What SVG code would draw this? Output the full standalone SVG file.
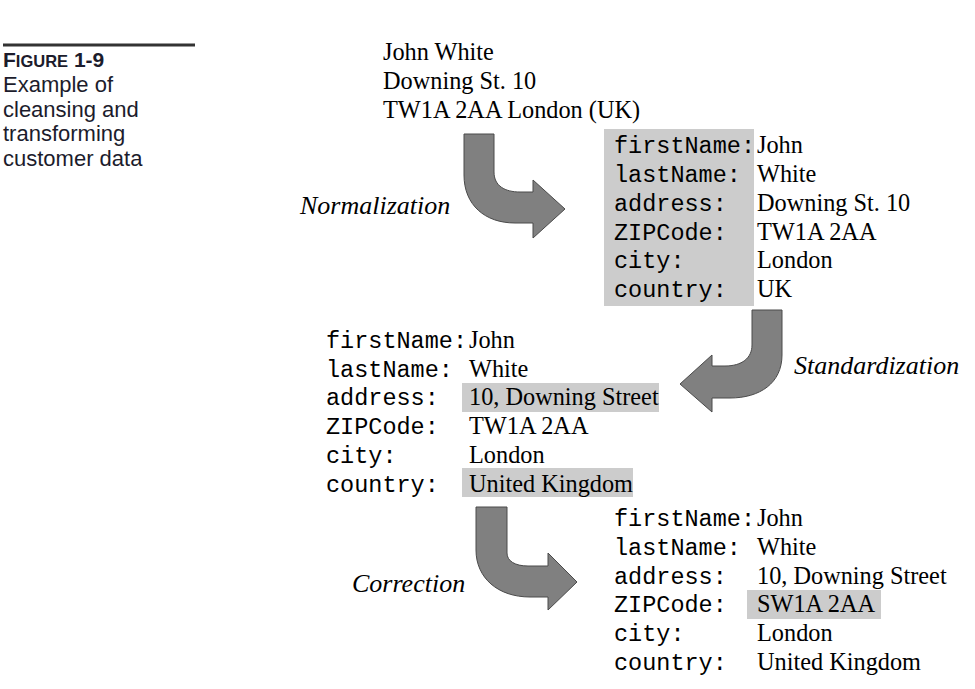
<svg xmlns="http://www.w3.org/2000/svg" width="975" height="689" viewBox="0 0 975 689">
<style>
  .cap { font-family: "Liberation Sans", Arial, sans-serif; font-size: 22px; fill: #1c1c2c; }
  .capb { font-family: "Liberation Sans", Arial, sans-serif; font-weight: bold; fill: #1c1c2c; }
  .serif { font-family: "Liberation Serif", "Times New Roman", serif; font-size: 24.3px; fill: #000; }
  .mono { font-family: "Liberation Mono", "Courier New", monospace; font-size: 23.5px; fill: #000; }
  .lbl { font-family: "Liberation Serif", "Times New Roman", serif; font-style: italic; font-size: 26px; fill: #000; }
  .hl { fill: #cccccc; }
  .arrow { fill: #808080; stroke: #4a4a4a; stroke-width: 1; }
</style>
<rect x="0" y="0" width="975" height="689" fill="#ffffff"/>

<g id="caption">
  <rect x="3" y="43.5" width="192" height="3" fill="#333333"/>
  <text class="capb" x="3" y="67"><tspan font-size="21">F</tspan><tspan font-size="16.5">IGURE</tspan><tspan font-size="21"> 1-9</tspan></text>
  <text class="cap" x="3" y="92">Example of</text>
  <text class="cap" x="3" y="116.5">cleansing and</text>
  <text class="cap" x="3" y="141">transforming</text>
  <text class="cap" x="3" y="165.5">customer data</text>
</g>

<g id="source-address">
  <text class="serif" x="383" y="60">John White</text>
  <text class="serif" x="383" y="89">Downing St. 10</text>
  <text class="serif" x="383" y="118">TW1A 2AA London (UK)</text>
</g>

<g id="record-normalized">
  <rect class="hl" x="604" y="129" width="150" height="177"/>
  <text class="mono" x="614" y="153">firstName:</text><text class="serif" x="757" y="153">John</text>
  <text class="mono" x="614" y="182">lastName:</text><text class="serif" x="757" y="182">White</text>
  <text class="mono" x="614" y="211">address:</text><text class="serif" x="757" y="211">Downing St. 10</text>
  <text class="mono" x="614" y="240">ZIPCode:</text><text class="serif" x="757" y="240">TW1A 2AA</text>
  <text class="mono" x="614" y="268">city:</text><text class="serif" x="757" y="268">London</text>
  <text class="mono" x="614" y="297">country:</text><text class="serif" x="757" y="297">UK</text>
</g>

<g id="record-standardized">
  <rect class="hl" x="462" y="383" width="197" height="29"/>
  <rect class="hl" x="462" y="468" width="171" height="29"/>
  <text class="mono" x="326" y="348">firstName:</text><text class="serif" x="469" y="348">John</text>
  <text class="mono" x="326" y="377">lastName:</text><text class="serif" x="469" y="377">White</text>
  <text class="mono" x="326" y="405">address:</text><text class="serif" x="469" y="405">10, Downing Street</text>
  <text class="mono" x="326" y="434">ZIPCode:</text><text class="serif" x="469" y="434">TW1A 2AA</text>
  <text class="mono" x="326" y="463">city:</text><text class="serif" x="469" y="463">London</text>
  <text class="mono" x="326" y="492">country:</text><text class="serif" x="469" y="492">United Kingdom</text>
</g>

<g id="record-corrected">
  <rect class="hl" x="747" y="590" width="134" height="29"/>
  <text class="mono" x="614" y="526">firstName:</text><text class="serif" x="757" y="526">John</text>
  <text class="mono" x="614" y="555">lastName:</text><text class="serif" x="757" y="555">White</text>
  <text class="mono" x="614" y="584">address:</text><text class="serif" x="757" y="584">10, Downing Street</text>
  <text class="mono" x="614" y="612">ZIPCode:</text><text class="serif" x="757" y="612">SW1A 2AA</text>
  <text class="mono" x="614" y="641">city:</text><text class="serif" x="757" y="641">London</text>
  <text class="mono" x="614" y="670">country:</text><text class="serif" x="757" y="670">United Kingdom</text>
</g>

<g id="connectors">
  <path class="arrow" d="M464,134 H494 V172 C494,186 505,192 520,192 H533 V180 L565,209 L533,238 V223 H515 C485,223 464,205 464,175 Z"/>
  <text class="lbl" x="300" y="214">Normalization</text>
  <path class="arrow" d="M752,310 H782 V355 C782,383 760,398 730,398 H712 V412 L680,384 L712,355 V366 H725 C742,366 752,358 752,345 Z"/>
  <text class="lbl" x="794" y="374">Standardization</text>
  <path class="arrow" d="M476,507 H507 V553 C507,561 515,566 528,566 H548 V553 L577,582 L548,610 V597 H530 C498,597 476,578 476,550 Z"/>
  <text class="lbl" x="352" y="592">Correction</text>
</g>
</svg>
